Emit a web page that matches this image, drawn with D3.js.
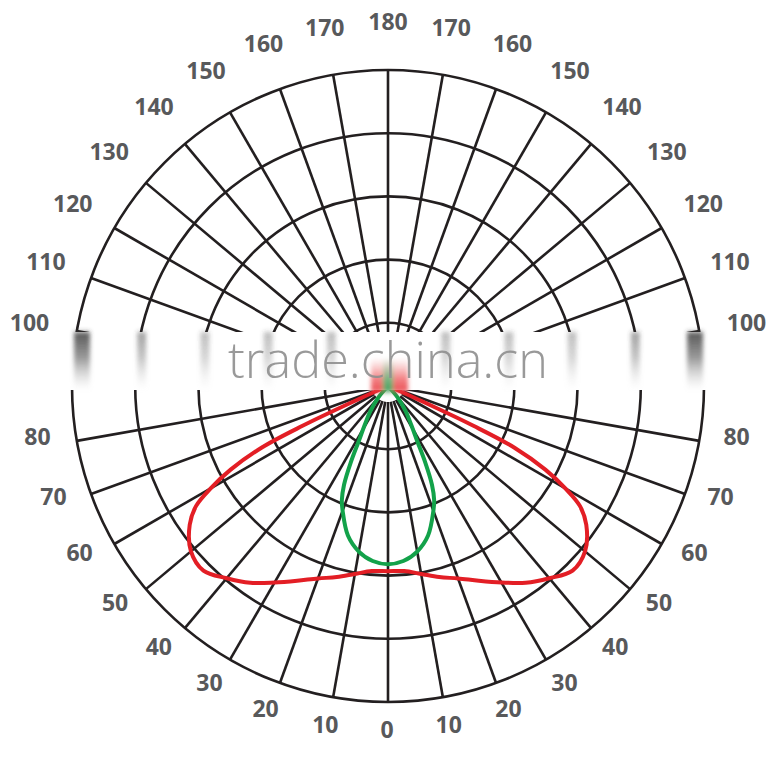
<!DOCTYPE html>
<html>
<head>
<meta charset="utf-8">
<script src="https://cdn.jsdelivr.net/npm/d3@7"></script>
<style>
  body { margin: 0; background: #fff; }
  svg { display: block; }
</style>
</head>
<body>
<svg id="chart" width="769" height="757"></svg>
<script>
// angles are degrees measured from straight down (0) out to either side
const ringValues  = [100, 200, 300, 400, 500]
const spokeAngles = [-170, -160, -150, -140, -130, -120, -110, -100, -90, -80, -70, -60, -50, -40, -30, -20, -10,
                     0, 10, 20, 30, 40, 50, 60, 70, 80, 90, 100, 110, 120, 130, 140, 150, 160, 170, 180]
const labelAngles = [0, 10, 20, 30, 40, 50, 60, 70, 80, 100, 110, 120, 130, 140, 150, 160, 170, 180]

// red (wide batwing) curve, same on both sides
const redAngles = [0, 5, 10, 15, 20, 25, 30, 35, 40, 45, 50, 55, 58, 60, 62, 64, 65, 66, 67]
const redValues = [293, 294, 302, 313, 324, 340, 359, 380, 397, 413, 407, 383, 358, 324, 282, 222, 150, 40, 0]

// green (narrow) curve
const greenAngles = [0, 5, 10, 15, 20, 22, 24, 26, 28, 31, 35, 40, 45]
const greenValues = [282, 278, 266, 245, 210, 195, 171, 134, 98, 71, 49, 24, 0]

const watermark = 'trade.china.cn'

const cx = 388, cy = 386
const outerR = 316
const bandTop = 332, bandBottom = 390

const svg = d3.select('#chart')
const defs = svg.append('defs')

const r = d3.scaleLinear().domain([0, 500]).range([0, outerR])
const rad = deg => Math.PI - deg * Math.PI / 180   // d3 radial angle (0 = up, clockwise)

const plot = svg.append('g').attr('transform', `translate(${cx},${cy})`)

// grid: rings
plot.append('g').selectAll('circle')
    .data(ringValues)
    .enter().append('circle')
    .attr('r', d => r(d))
    .attr('fill', 'none')
    .attr('stroke', '#231f20')
    .attr('stroke-width', 2.6)

// grid: spokes
plot.append('g').selectAll('line')
    .data(spokeAngles)
    .enter().append('line')
    .attr('x1', d => 16 * Math.sin(rad(d)))
    .attr('y1', d => -16 * Math.cos(rad(d)))
    .attr('x2', d => r(500) * Math.sin(rad(d)))
    .attr('y2', d => -r(500) * Math.cos(rad(d)))
    .attr('stroke', '#231f20')
    .attr('stroke-width', 2.6)

// curves
function mirrored(angles, values){
    const right = angles.map((a, i) => ({a: a, v: values[i]}))
    const left = right.slice(1).map(d => ({a: -d.a, v: d.v})).reverse()
    return left.concat(right)
}
const radial = d3.lineRadial()
    .angle(d => rad(d.a))
    .radius(d => r(d.v))
    .curve(d3.curveCatmullRom.alpha(0.5))

plot.append('path')
    .attr('d', radial(mirrored(redAngles, redValues)))
    .attr('fill', 'none')
    .attr('stroke', '#e31e25')
    .attr('stroke-width', 4)
    .attr('stroke-linejoin', 'round')

plot.append('path')
    .attr('d', radial(mirrored(greenAngles, greenValues)))
    .attr('fill', 'none')
    .attr('stroke', '#13a24a')
    .attr('stroke-width', 4)
    .attr('stroke-linejoin', 'round')

// angle labels: lower half and upper half sit on slightly different circles
const labels = []
labelAngles.forEach(v => {
    if(v === 0 || v === 180) labels.push({v: v, a: v})
    else { labels.push({v: v, a: -v}); labels.push({v: v, a: v}) }
})
const labelPos = d => d.v < 90 ? {x: cx - 1, y: cy - 11, R: 355} : {x: cx, y: cy, R: 364}
svg.append('g').selectAll('text')
    .data(labels)
    .enter().append('text')
    .attr('x', d => { const p = labelPos(d); return p.x + p.R * Math.sin(rad(d.a)) })
    .attr('y', d => { const p = labelPos(d); return p.y - p.R * Math.cos(rad(d.a)) })
    .attr('dy', '0.36em')
    .attr('text-anchor', 'middle')
    .style('font', 'bold 23px "Open Sans", "DejaVu Sans", sans-serif')
    .style('fill', '#58595b')
    .text(d => d.v)

// ---- watermark band (smeared strip across the middle) ----
const smear = defs.append('linearGradient').attr('id', 'smear')
    .attr('x1', 0).attr('y1', 0).attr('x2', 0).attr('y2', 1)
smear.append('stop').attr('offset', '0%').attr('stop-color', '#3a3a3a').attr('stop-opacity', 0.95)
smear.append('stop').attr('offset', '45%').attr('stop-color', '#6a6a6a').attr('stop-opacity', 0.75)
smear.append('stop').attr('offset', '100%').attr('stop-color', '#bbbbbb').attr('stop-opacity', 0)

const redSmear = defs.append('linearGradient').attr('id', 'redSmear')
    .attr('x1', 0).attr('y1', 0).attr('x2', 0).attr('y2', 1)
redSmear.append('stop').attr('offset', '0%').attr('stop-color', '#f08080').attr('stop-opacity', 0)
redSmear.append('stop').attr('offset', '60%').attr('stop-color', '#ee5a5e').attr('stop-opacity', 0.75)
redSmear.append('stop').attr('offset', '100%').attr('stop-color', '#e8383d').attr('stop-opacity', 0.9)

const greenSmear = defs.append('linearGradient').attr('id', 'greenSmear')
    .attr('x1', 0).attr('y1', 0).attr('x2', 0).attr('y2', 1)
greenSmear.append('stop').attr('offset', '0%').attr('stop-color', '#8fd6a8').attr('stop-opacity', 0)
greenSmear.append('stop').attr('offset', '60%').attr('stop-color', '#5cc283').attr('stop-opacity', 0.8)
greenSmear.append('stop').attr('offset', '100%').attr('stop-color', '#2eaa5e').attr('stop-opacity', 0.9)

defs.append('filter').attr('id', 'soft')
    .attr('x', '-50%').attr('y', '-20%').attr('width', '200%').attr('height', '140%')
    .append('feGaussianBlur').attr('stdDeviation', '2 2.5')

const band = svg.append('g')
band.append('rect')
    .attr('x', 0).attr('y', bandTop)
    .attr('width', 769).attr('height', bandBottom - bandTop)
    .attr('fill', '#fff')

const ringSmears = []
ringValues.forEach(v => { ringSmears.push({v: v, side: -1}); ringSmears.push({v: v, side: 1}) })
band.append('g').attr('filter', 'url(#soft)').selectAll('rect')
    .data(ringSmears)
    .enter().append('rect')
    .attr('x', d => {
        const w = d.v === 500 ? 16 : 9
        return d.side < 0 ? cx - r(d.v) + 2 : cx + r(d.v) - w - 1
    })
    .attr('y', bandTop)
    .attr('width', d => d.v === 500 ? 16 : 9)
    .attr('height', bandBottom - bandTop)
    .attr('fill', 'url(#smear)')
    .attr('opacity', d => d.v === 500 ? 0.9 : d.v === 400 ? 0.5 : 0.35)

const blob = band.append('g').attr('filter', 'url(#soft)')
blob.append('rect')
    .attr('x', cx - 17).attr('y', bandTop + 26)
    .attr('width', 37).attr('height', bandBottom - bandTop - 24)
    .attr('fill', 'url(#redSmear)')
blob.append('rect')
    .attr('x', cx - 5).attr('y', bandTop + 26)
    .attr('width', 10).attr('height', bandBottom - bandTop - 24)
    .attr('fill', 'url(#greenSmear)')

band.append('text')
    .attr('x', cx).attr('y', 378)
    .attr('text-anchor', 'middle')
    .attr('textLength', 320)
    .attr('lengthAdjust', 'spacingAndGlyphs')
    .style('font', '300 50px "Open Sans", "Liberation Sans", sans-serif')
    .style('fill', '#8e8e8e')
    .style('fill-opacity', 0.9)
    .text(watermark)
</script>
</body>
</html>
